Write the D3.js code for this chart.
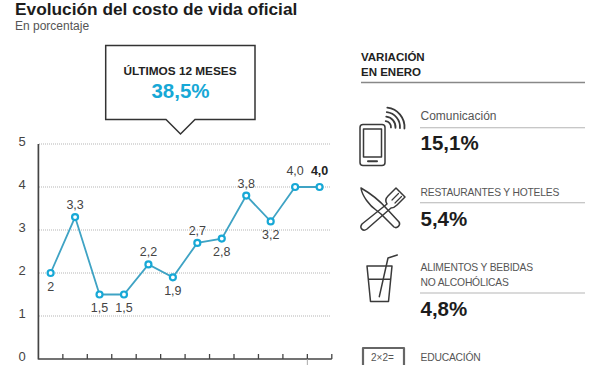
<!DOCTYPE html>
<html>
<head>
<meta charset="utf-8">
<script src="https://d3js.org/d3.v7.min.js"></script>
<style>
    html, body { margin: 0; padding: 0; background: #fff; overflow: hidden; }
    svg { display: block; font-family: "Liberation Sans", sans-serif; }
</style>
</head>
<body>
<div id="chart"></div>
<script>
// Monthly inflation, Feb to Jan (month names are cut off in the picture)
const months = ["feb", "mar", "abr", "may", "jun", "jul", "ago", "sep", "oct", "nov", "dic", "ene"];
const values = [2, 3.3, 1.5, 1.5, 2.2, 1.9, 2.7, 2.8, 3.8, 3.2, 4.0, 4.0];
const valueLabels = ["2", "3,3", "1,5", "1,5", "2,2", "1,9", "2,7", "2,8", "3,8", "3,2", "4,0", "4,0"];
const labelSides = ["below", "above", "below", "below", "above", "below", "above", "below", "above", "below", "above", "above"];
const yTicks = [0, 1, 2, 3, 4, 5];

// Right hand list
const itemNames = [["Comunicación"], ["RESTAURANTES Y HOTELES"], ["ALIMENTOS Y BEBIDAS", "NO ALCOHÓLICAS"], ["EDUCACIÓN"]];
const itemValues = ["15,1%", "5,4%", "4,8%", ""];

const width = 600;
const height = 365;
const blue = "#17a8d6";
const lineBlue = "#3fa3c4";

const svg = d3.select("#chart").append("svg")
    .attr("width", width)
    .attr("height", height);

// Title
svg.append("text").attr("x", 15).attr("y", 15)
    .attr("font-size", 17.3).attr("font-weight", "bold").attr("fill", "#1c1c1c")
    .text("Evolución del costo de vida oficial");
svg.append("text").attr("x", 15).attr("y", 30)
    .attr("font-size", 12).attr("fill", "#555")
    .text("En porcentaje");

// Callout box
svg.append("path")
    .attr("d", "M105.7,45.5H255V119.5H195L180.5,134L166,119.5H105.7Z")
    .attr("fill", "#fff").attr("stroke", "#333").attr("stroke-width", 1.5);
svg.append("text").attr("x", 180).attr("y", 75)
    .attr("text-anchor", "middle").attr("font-size", 11.8).attr("font-weight", "bold").attr("fill", "#222")
    .text("ÚLTIMOS 12 MESES");
svg.append("text").attr("x", 180.5).attr("y", 97.5)
    .attr("text-anchor", "middle").attr("font-size", 20.5).attr("font-weight", "bold").attr("fill", blue)
    .text("38,5%");

// Scales
const x = d3.scaleBand().domain(months).range([38.4, 331.8]);
const y = d3.scaleLinear().domain([0, 5]).range([359, 144]);
const cx = d => x(d) + x.bandwidth() / 2;

// Dotted grid
svg.append("g").selectAll("line")
    .data(yTicks.slice(1))
    .join("line")
    .attr("x1", 39).attr("x2", 330)
    .attr("y1", d => y(d)).attr("y2", d => y(d))
    .attr("stroke", "#b5b5b5").attr("stroke-width", 1).attr("stroke-dasharray", "1 1");

// Y labels
svg.append("g").selectAll("text")
    .data(yTicks)
    .join("text")
    .attr("x", 22).attr("y", d => y(d) + 1.5)
    .attr("text-anchor", "middle").attr("font-size", 13).attr("fill", "#444")
    .text(d => d);

// Axes
svg.append("line").attr("x1", 38.4).attr("x2", 38.4).attr("y1", 144).attr("y2", 359.5)
    .attr("stroke", "#444").attr("stroke-width", 1.7);
svg.append("line").attr("x1", 38.4).attr("x2", 331.8).attr("y1", 359).attr("y2", 359)
    .attr("stroke", "#444").attr("stroke-width", 1.7);
svg.append("g").selectAll("line")
    .data(months)
    .join("line")
    .attr("x1", d => x(d) + x.bandwidth()).attr("x2", d => x(d) + x.bandwidth())
    .attr("y1", 359).attr("y2", 354)
    .attr("stroke", "#444").attr("stroke-width", 1.3);
// year break below the axis
svg.append("line")
    .attr("x1", x("ene")).attr("x2", x("ene"))
    .attr("y1", 359).attr("y2", 365)
    .attr("stroke", "#aaa").attr("stroke-width", 1);

// Line
const line = d3.line()
    .x((d, i) => cx(months[i]))
    .y(d => y(d));
svg.append("path")
    .datum(values)
    .attr("fill", "none").attr("stroke", lineBlue).attr("stroke-width", 1.8)
    .attr("d", line);

// Points
svg.append("g").selectAll("circle")
    .data(values)
    .join("circle")
    .attr("cx", (d, i) => cx(months[i]))
    .attr("cy", d => y(d))
    .attr("r", 3)
    .attr("fill", "#fff").attr("stroke", blue).attr("stroke-width", 2.2);

// Value labels
svg.append("g").selectAll("text")
    .data(values)
    .join("text")
    .attr("x", (d, i) => cx(months[i]))
    .attr("y", (d, i) => y(d) + (labelSides[i] === "above" ? (d >= 4 ? -12 : -8) : 17.5))
    .attr("text-anchor", "middle")
    .attr("font-size", 12.5)
    .attr("font-weight", (d, i) => i === values.length - 1 ? "bold" : "normal")
    .attr("fill", (d, i) => i === values.length - 1 ? "#222" : "#444")
    .text((d, i) => valueLabels[i]);

// Right panel header
svg.append("text").attr("x", 361).attr("y", 60.5)
    .attr("font-size", 11.5).attr("font-weight", "bold").attr("fill", "#222").text("VARIACIÓN");
svg.append("text").attr("x", 361).attr("y", 75.5)
    .attr("font-size", 11.5).attr("font-weight", "bold").attr("fill", "#222").text("EN ENERO");
svg.append("line").attr("x1", 361).attr("x2", 585).attr("y1", 82.5).attr("y2", 82.5)
    .attr("stroke", "#888").attr("stroke-width", 1.3);

// Items: first baseline, rule and value rows
const itemTextY = [120, 195.5, 270.7, 361];
const itemRuleY = [127.7, 202.7, 293];
const itemValueY = [150, 226, 316];
itemNames.forEach((lines, i) => {
    lines.forEach((t, j) => {
        svg.append("text").attr("x", 420.5).attr("y", itemTextY[i] + j * 15.5)
            .attr("font-size", i === 0 ? 12 : 10.3)
            .attr("letter-spacing", i === 0 ? 0 : -0.2)
            .attr("fill", "#555").text(t);
    });
    if (itemValues[i]) {
        svg.append("line").attr("x1", 420).attr("x2", 585).attr("y1", itemRuleY[i]).attr("y2", itemRuleY[i])
            .attr("stroke", "#b5b5b5").attr("stroke-width", 1.1);
        svg.append("text").attr("x", 420.5).attr("y", itemValueY[i])
            .attr("font-size", 20.5).attr("font-weight", "bold").attr("fill", "#1c1c1c").text(itemValues[i]);
    }
});

// Icons
const icons = svg.append("g").attr("fill", "none").attr("stroke", "#3a3a3a").attr("stroke-width", 1.5)
    .attr("stroke-linecap", "round").attr("stroke-linejoin", "round");

// phone
icons.append("rect").attr("x", 360).attr("y", 124.5).attr("width", 25).attr("height", 41).attr("rx", 3);
icons.append("rect").attr("x", 363.5).attr("y", 129).attr("width", 18).attr("height", 28);
icons.append("line").attr("x1", 368).attr("x2", 377).attr("y1", 161.2).attr("y2", 161.2).attr("stroke-width", 2);
[6, 10.5, 15, 19.5].forEach(r => {
    const a0 = 0.12, a1 = 1.65;
    icons.append("path")
        .attr("d", `M${385 + r * Math.sin(a0)},${127 - r * Math.cos(a0)}`
            + `A${r},${r} 0 0 1 ${385 + r * Math.sin(a1)},${127 - r * Math.cos(a1)}`)
        .attr("stroke-width", 1.8);
});

// knife and fork
icons.append("path").attr("d", "M361,188C368,192 380,201 387,209L399,222C401,225 397,229 394,227L381,214L376,210C370,206 362,196 361,188Z");
icons.append("path").attr("d", "M387,204L362,224C359,228 363,232 367,229L391,208C393,208 395,207 397,205L405,197L396,188L388,196C386,198 385,201 387,204Z");
icons.append("path").attr("d", "M392,200L398.5,193.5M395,203L401.5,196.5").attr("stroke-width", 1.2);

// glass with straw
icons.append("path").attr("d", "M367,266H392L388.5,301.5H370.5Z");
icons.append("line").attr("x1", 369).attr("x2", 390).attr("y1", 279.3).attr("y2", 279.3);
icons.append("path").attr("d", "M379.3,296.7L388,258L397.3,255");

// blackboard
icons.append("rect").attr("x", 363).attr("y", 348).attr("width", 41).attr("height", 20).attr("stroke-width", 2.2).attr("stroke", "#666");
svg.append("text").attr("x", 371).attr("y", 360.5).attr("font-size", 10).attr("fill", "#555").text("2×2=");
</script>
</body>
</html>
